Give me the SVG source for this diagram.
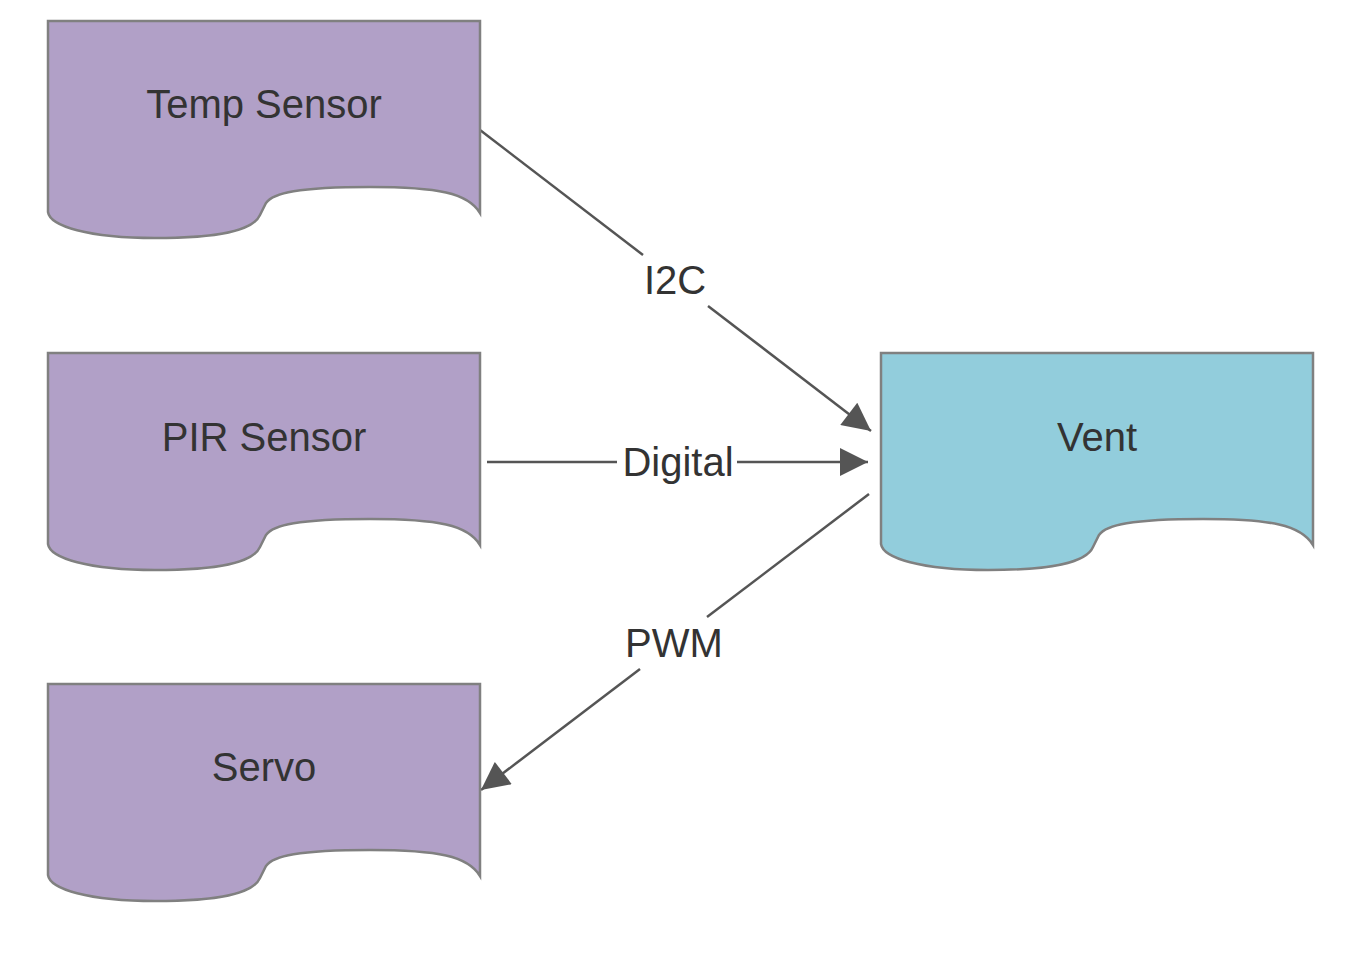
<svg xmlns="http://www.w3.org/2000/svg" width="1364" height="958" viewBox="0 0 1364 958">
<style>
.doc{stroke:#808080;stroke-width:2.5}
.p{fill:#b1a0c7}
.b{fill:#92cddc}
.t{font-family:"Liberation Sans",Arial,sans-serif;font-size:40px;fill:#333;text-anchor:middle}
.e{stroke:#555;stroke-width:2.5;fill:none}
</style>
<defs>
<marker id="ah" markerUnits="userSpaceOnUse" markerWidth="30" markerHeight="28" viewBox="0 0 10 10" refX="10" refY="5" orient="auto">
<path d="M0,0 L10,5 L0,10 z" fill="#555"/>
</marker>
<path id="docshape" d="M0,0 H432 V192 C420,172 390,166 322,166 C250,166 225,172 218,182 L212,194 C205,210 170,217 107,217 C40,217 2,205 0,191 Z"/>
</defs>
<rect width="1364" height="958" fill="#fff"/>
<g id="connectors">
<path class="e" d="M480,130 L643,255"/>
<path class="e" d="M708,306 L871,431" marker-end="url(#ah)"/>
<path class="e" d="M487,462 L617,462"/>
<path class="e" d="M737,462 L868,462" marker-end="url(#ah)"/>
<path class="e" d="M869,494 L707,617"/>
<path class="e" d="M640,669 L481,790" marker-end="url(#ah)"/>
<text class="t" x="675" y="294">I2C</text>
<text class="t" x="678" y="476">Digital</text>
<text class="t" x="674" y="657">PWM</text>
</g>
<g id="temp">
<use href="#docshape" class="doc p" x="48" y="21"/>
<text class="t" x="264" y="118">Temp Sensor</text>
</g>
<g id="pir">
<use href="#docshape" class="doc p" x="48" y="353"/>
<text class="t" x="264" y="451">PIR Sensor</text>
</g>
<g id="servo">
<use href="#docshape" class="doc p" x="48" y="684"/>
<text class="t" x="264" y="781">Servo</text>
</g>
<g id="vent">
<use href="#docshape" class="doc b" x="881" y="353"/>
<text class="t" x="1097" y="451">Vent</text>
</g>
</svg>
